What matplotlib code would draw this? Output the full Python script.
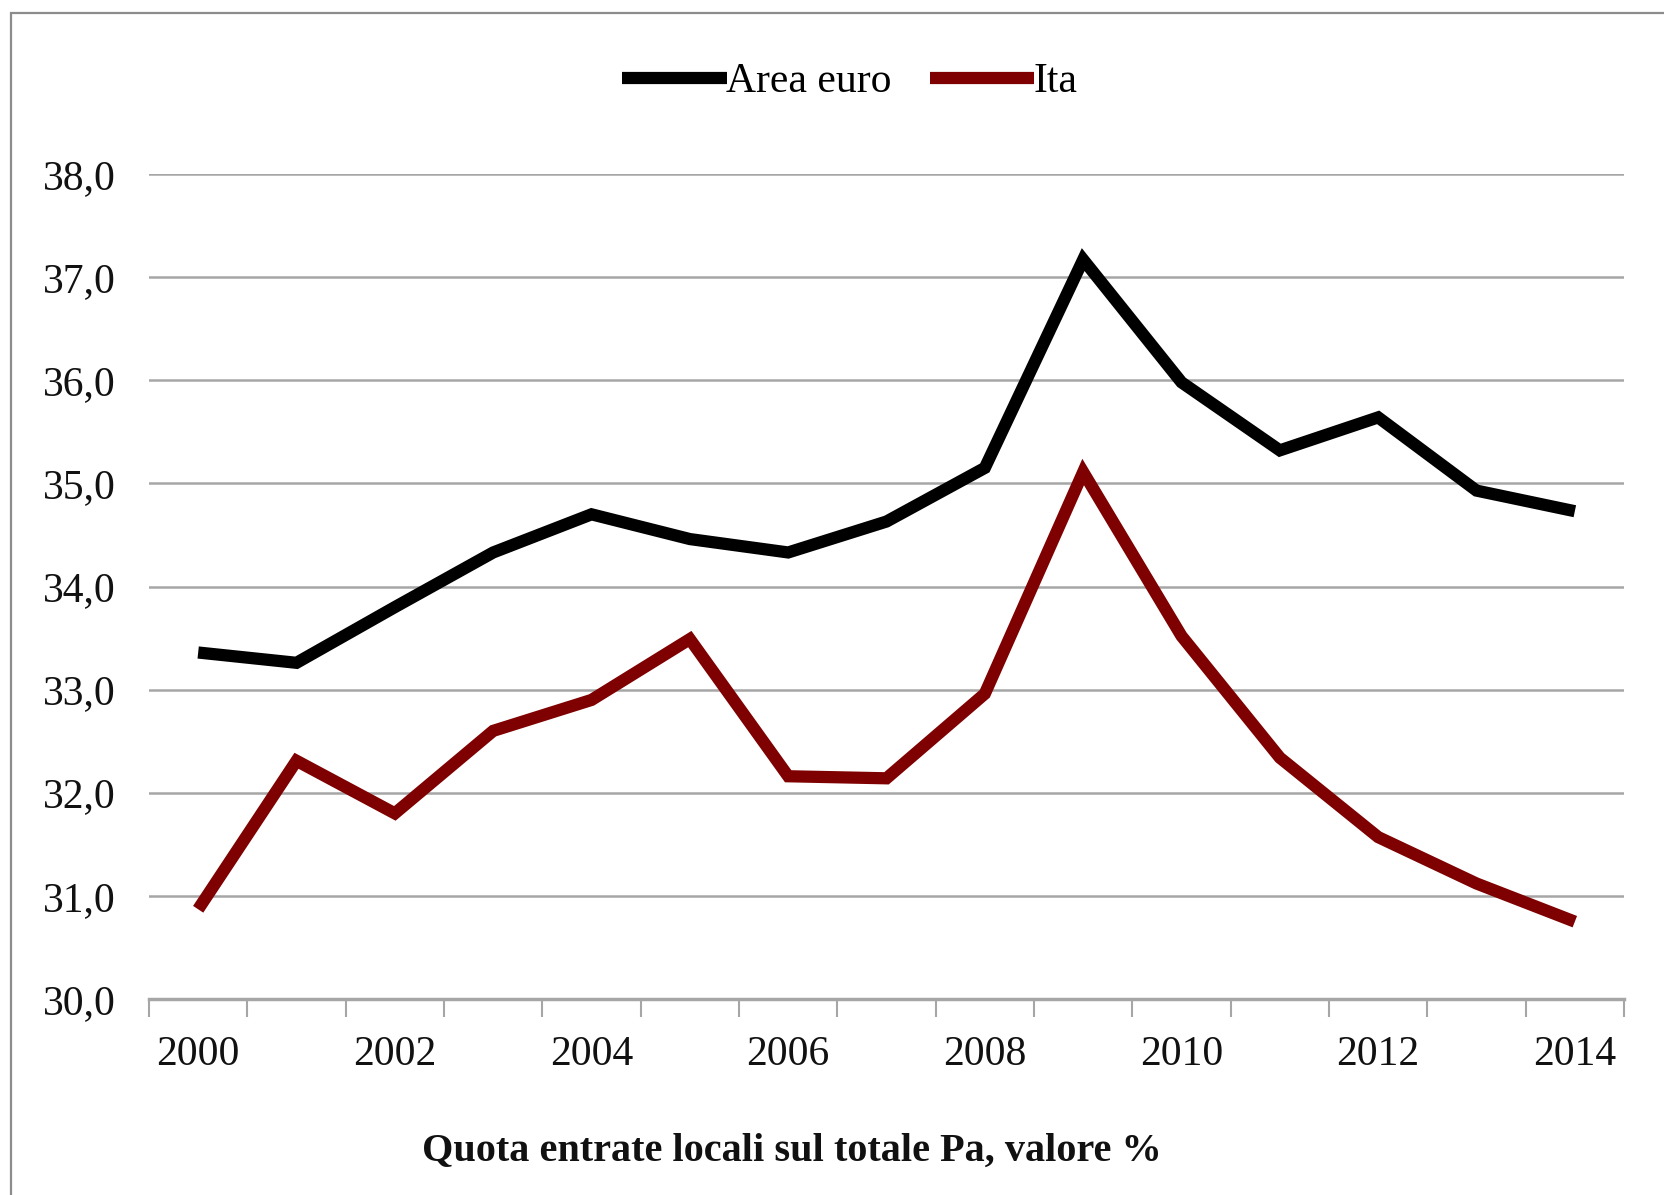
import matplotlib
matplotlib.use("Agg")
import matplotlib.pyplot as plt
from matplotlib.lines import Line2D
from matplotlib.patches import Rectangle

# Data: share of local revenues over total public administration revenues (%)
years = [2000, 2001, 2002, 2003, 2004, 2005, 2006, 2007,
         2008, 2009, 2010, 2011, 2012, 2013, 2014]
area_euro = [33.36, 33.26, 33.80, 34.33, 34.70, 34.46, 34.33, 34.63,
             35.15, 37.17, 35.98, 35.32, 35.64, 34.93, 34.73]
ita = [30.87, 32.31, 31.80, 32.60, 32.90, 33.49, 32.16, 32.14,
       32.96, 35.11, 33.52, 32.34, 31.57, 31.12, 30.75]
series_names = ["Area euro", "Ita"]
series_colors = ["#000000", "#7f0000"]
y_ticks = [30, 31, 32, 33, 34, 35, 36, 37, 38]
title = "Quota entrate locali sul totale Pa, valore %"

plt.rcParams["font.family"] = ["Liberation Serif", "DejaVu Serif"]

W, H = 1664, 1195
fig = plt.figure(figsize=(W / 100, H / 100), dpi=100)
fig.patch.set_facecolor("white")

# outer chart frame (only top and left edges visible)
fig.add_artist(Rectangle((11 / W, -0.05), 1.2, 1 - 13 / H + 0.05,
                         transform=fig.transFigure, fill=False,
                         edgecolor="#8c8c8c", linewidth=1.6))

left, right, top, bottom = 149 / W, 1624 / W, 1 - 174 / H, 1 - 999 / H
ax = fig.add_axes([left, bottom, right - left, top - bottom])

LW = 8.8
x = list(range(len(years)))
for vals, name, col in zip([area_euro, ita], series_names, series_colors):
    ax.plot(x, vals, color=col, linewidth=LW, solid_joinstyle="miter",
            solid_capstyle="butt", label=name, zorder=3)

ax.set_xlim(-0.5, len(years) - 0.5)
ax.set_ylim(y_ticks[0], y_ticks[-1])

# horizontal gridlines
ax.set_yticks(y_ticks)
ax.set_yticklabels([f"{v:.1f}".replace(".", ",") for v in y_ticks])
ax.yaxis.grid(True, color="#a6a6a6", linewidth=1.8)
ax.set_axisbelow(True)
ax.tick_params(axis="y", length=0, pad=24, labelsize=30, labelcolor="#111111")

# category ticks between years, labels every other year
ax.set_xticks([i - 0.5 for i in range(len(years) + 1)])
ax.set_xticklabels([])
ax.set_xticks(x[::2], minor=True)
ax.set_xticklabels([str(y) for y in years[::2]], minor=True)
ax.tick_params(axis="x", which="major", length=13, width=1.5, color="#a6a6a6",
               direction="out")
ax.tick_params(axis="x", which="minor", length=0, pad=26, labelsize=30,
               labelcolor="#111111")

for s in ["top", "right", "left"]:
    ax.spines[s].set_visible(False)
ax.spines["bottom"].set_color("#a6a6a6")
ax.spines["bottom"].set_linewidth(2.5)

handles = [Line2D([], [], color=c, linewidth=LW, solid_capstyle="butt")
           for c in series_colors]
fig.legend(handles, series_names, loc="center", ncol=2,
           bbox_to_anchor=(850 / W, 1 - 82 / H), frameon=False,
           fontsize=30, handlelength=2.5, handletextpad=0.0,
           columnspacing=0.9)

fig.text(792 / W, 1 - 1151 / H, title, ha="center", va="center",
         fontsize=29, fontweight="bold", color="#111111")

fig.savefig("out.png", dpi=100, facecolor="white")
